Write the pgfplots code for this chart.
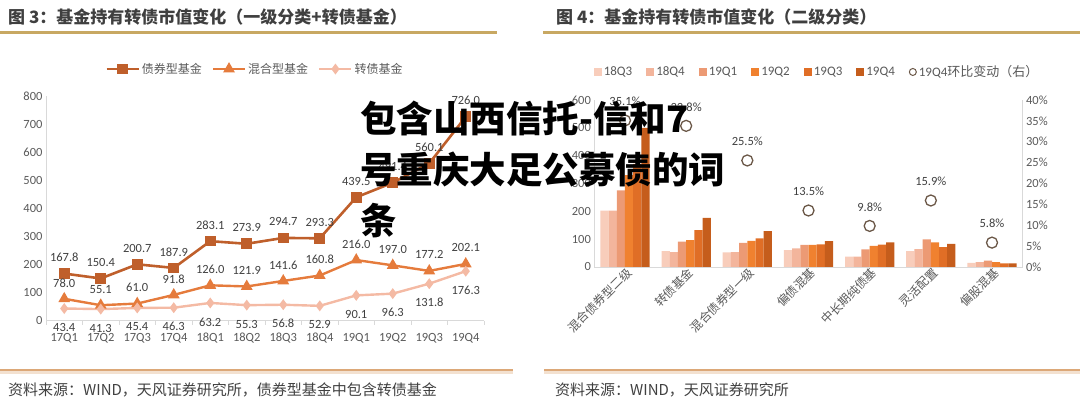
\documentclass[border=0pt]{standalone}
\usepackage{fontspec}
\setmainfont{Carlito}
\newfontfamily\cjk{Noto Sans CJK SC}
\usepackage{pgfplots}
\pgfplotsset{compat=1.18}
\pgfkeys{/pgf/number format/assume math mode=true}
\newcommand\fs[1]{\fontsize{#1pt}{#1pt}\selectfont}
\definecolor{axisgray}{HTML}{D9D9D9}
\definecolor{tickgray}{HTML}{595959}
\definecolor{labgray}{HTML}{404040}
\definecolor{bondc}{HTML}{BF5F2B}
\definecolor{mixc}{HTML}{E57B3C}
\definecolor{cbc}{HTML}{F4BAA4}
\definecolor{qa}{HTML}{F8CDBB}
\definecolor{qb}{HTML}{F3B59C}
\definecolor{qc}{HTML}{EC9A74}
\definecolor{qd}{HTML}{F0812F}
\definecolor{qe}{HTML}{E06E26}
\definecolor{qf}{HTML}{C55D1C}
\definecolor{circc}{HTML}{6B5848}
\definecolor{titleline}{HTML}{C8A862}
\definecolor{bottomline}{HTML}{DCA878}
\definecolor{titlec}{HTML}{3F3F3F}

\pgfplotsset{
  lbl/.style={nodes near coords={\pgfmathprintnumber[fixed,fixed zerofill,precision=1]{\pgfplotspointmeta}},
    every node near coord/.append style={anchor=center, yshift=#1, font=\fs{12.5}, text=labgray}},
  lineleg/.style={legend image code/.code={\draw[##1, mark=none] (0pt,0pt) -- (32pt,0pt);
    \draw[##1, only marks] plot coordinates {(16pt,0pt)};}},
  sq/.style={ybar, bar width=8.2pt, fill=#1, draw=none,
    legend image code/.code={\fill[#1] (0pt,-4pt) rectangle (8pt,4pt);}},
}

\begin{document}
\begin{tikzpicture}[x=1pt,y=1pt]
\useasboundingbox (0,0) rectangle (1080,406);

% ---- figure 3: line chart
\begin{axis}[
  at={(46pt,85.3pt)}, anchor=south west, scale only axis,
  width=438pt, height=224.7pt,
  xmin=-0.5, xmax=11.5, ymin=0, ymax=800,
  axis y line*=left, axis x line*=bottom,
  axis line style={draw=axisgray},
  xtick={0,...,11},
  xticklabels={17Q1,17Q2,17Q3,17Q4,18Q1,18Q2,18Q3,18Q4,19Q1,19Q2,19Q3,19Q4},
  minor xtick={-0.5,0.5,...,11.5},
  tick align=outside, minor tick length=4pt, major tick length=0pt,
  minor tick style={draw=axisgray},
  ytick={0,100,...,800},
  tick label style={font=\fs{12.5}, text=tickgray},
  xticklabel style={yshift=-9pt},
  clip=false,
  legend style={at={(0.477,1.12)}, anchor=center, draw=none, fill=none,
    legend columns=3, font=\cjk\fs{12}, text=tickgray,
    /tikz/every even column/.append style={column sep=8pt}},
]
\addplot[bondc, line width=2.6pt, mark=square*, mark size=4pt, lineleg, lbl=16pt] coordinates {
  (0,167.8) (1,150.4) (2,200.7) (3,187.9) (4,283.1) (5,273.9)
  (6,294.7) (7,293.3) (8,439.5) (9,491.4) (10,560.1) (11,726.0)};
\addlegendentry{债券型基金}
\addplot[mixc, line width=2.4pt, mark=triangle*, mark size=4.5pt, lineleg, lbl=16pt] coordinates {
  (0,78.0) (1,55.1) (2,61.0) (3,91.8) (4,126.0) (5,121.9)
  (6,141.6) (7,160.8) (8,216.0) (9,197.0) (10,177.2) (11,202.1)};
\addlegendentry{混合型基金}
\addplot[cbc, line width=2.4pt, mark=diamond*, mark size=3.5pt, lineleg, lbl=-19pt] coordinates {
  (0,43.4) (1,41.3) (2,45.4) (3,46.3) (4,63.2) (5,55.3)
  (6,56.8) (7,52.9) (8,90.1) (9,96.3) (10,131.8) (11,176.3)};
\addlegendentry{转债基金}
\end{axis}

% ---- figure 4: grouped bars, left axis
\begin{axis}[
  at={(594.4pt,139.2pt)}, anchor=south west, scale only axis,
  width=428.2pt, height=166.8pt,
  xmin=-0.5, xmax=6.5, ymin=0, ymax=600,
  axis y line*=left, axis x line*=bottom,
  axis line style={draw=axisgray},
  major tick length=0pt,
  xtick={0,...,6},
  xticklabels={混合债券型二级,转债基金,混合债券型一级,偏债混基,中长期纯债基,灵活配置,偏股混基},
  xticklabel style={rotate=45, anchor=east, font=\cjk\fs{12}, text=tickgray, xshift=4pt, yshift=-6pt},
  ytick={0,100,...,600},
  yticklabel style={font=\fs{12.5}, text=tickgray},
  clip=false,
  legend style={at={(0.52,1.168)}, anchor=center, draw=none, fill=none,
    legend columns=-1, font=\fs{13}, text=tickgray,
    /tikz/every even column/.append style={column sep=12pt}},
]
\addplot[sq=qa, bar shift=-20.5pt] coordinates {(0,202) (1,56.8) (2,52) (3,60) (4,37) (5,56) (6,14)};
\addlegendentry{18Q3}
\addplot[sq=qb, bar shift=-12.3pt] coordinates {(0,202) (1,52.9) (2,53) (3,66) (4,37) (5,64) (6,17)};
\addlegendentry{18Q4}
\addplot[sq=qc, bar shift=-4.1pt] coordinates {(0,275) (1,90.1) (2,86) (3,79) (4,63) (5,99) (6,22)};
\addlegendentry{19Q1}
\addplot[sq=qd, bar shift=4.1pt] coordinates {(0,330) (1,96.3) (2,93) (3,79) (4,75) (5,88) (6,17)};
\addlegendentry{19Q2}
\addplot[sq=qe, bar shift=12.3pt] coordinates {(0,370) (1,131.8) (2,102) (3,81) (4,80) (5,71) (6,12)};
\addlegendentry{19Q3}
\addplot[sq=qf, bar shift=20.5pt] coordinates {(0,500) (1,176.3) (2,128) (3,92) (4,88) (5,82) (6,12.7)};
\addlegendentry{19Q4}
\addlegendimage{legend image code/.code={\draw[circc, line width=1pt] (4pt,0pt) circle (3.5pt);}}
\addlegendentry{19Q4{\cjk 环比变动（右）}}
\end{axis}

% ---- figure 4: right axis (percent change)
\begin{axis}[
  at={(594.4pt,139.2pt)}, anchor=south west, scale only axis,
  width=428.2pt, height=166.8pt,
  xmin=-0.5, xmax=6.5, ymin=0, ymax=40,
  axis y line*=right, axis x line=none,
  axis line style={draw=axisgray},
  major tick length=0pt,
  ytick={0,5,...,40},
  yticklabel={\pgfmathprintnumber{\tick}\%},
  yticklabel style={font=\fs{12.5}, text=tickgray},
  clip=false,
]
\addplot[only marks, mark=o, mark size=5.5pt, draw=circc, line width=1.3pt,
  nodes near coords={\pgfmathprintnumber[fixed,fixed zerofill,precision=1]{\pgfplotspointmeta}\%},
  every node near coord/.append style={anchor=center, yshift=19pt, font=\fs{12.5}, text=labgray}]
  coordinates {(0,35.1) (1,33.8) (2,25.5) (3,13.5) (4,9.8) (5,15.9) (6,5.8)};
\end{axis}

% ---- titles, rules and sources
\node[anchor=west, text=titlec, inner sep=0pt] at (8,389) {\cjk\bfseries\fs{17}图 3：基金持有转债市值变化（一级分类+转债基金）};
\node[anchor=west, text=titlec, inner sep=0pt] at (556,389) {\cjk\bfseries\fs{17}图 4：基金持有转债市值变化（二级分类）};
\draw[titleline, line width=2.5pt] (0,373.5) -- (497,373.5);
\draw[titleline, line width=2.5pt] (543,373.5) -- (1080,373.5);
\draw[bottomline!35, line width=5pt] (0,34.5) -- (513,34.5);
\draw[bottomline!35, line width=5pt] (544,34.5) -- (1080,34.5);
\draw[bottomline, line width=2pt] (0,35.5) -- (513,35.5);
\draw[bottomline, line width=2pt] (544,35.5) -- (1080,35.5);
\node[anchor=west, text=labgray, inner sep=0pt] at (8,16.5) {\cjk\fs{15}资料来源：WIND，天风证券研究所，债券型基金中包含转债基金};
\node[anchor=west, text=labgray, inner sep=0pt] at (555,16.5) {\cjk\fs{15}资料来源：WIND，天风证券研究所};

% ---- overlaid caption text
\node[anchor=base west, inner sep=0pt] at (360,273) {\cjk\bfseries\fs{36.5}包含山西信托-信和7};
\node[anchor=base west, inner sep=0pt] at (360,222) {\cjk\bfseries\fs{36.5}号重庆大足公募债的词};
\node[anchor=base west, inner sep=0pt] at (360,171) {\cjk\bfseries\fs{36.5}条};
\end{tikzpicture}
\end{document}
